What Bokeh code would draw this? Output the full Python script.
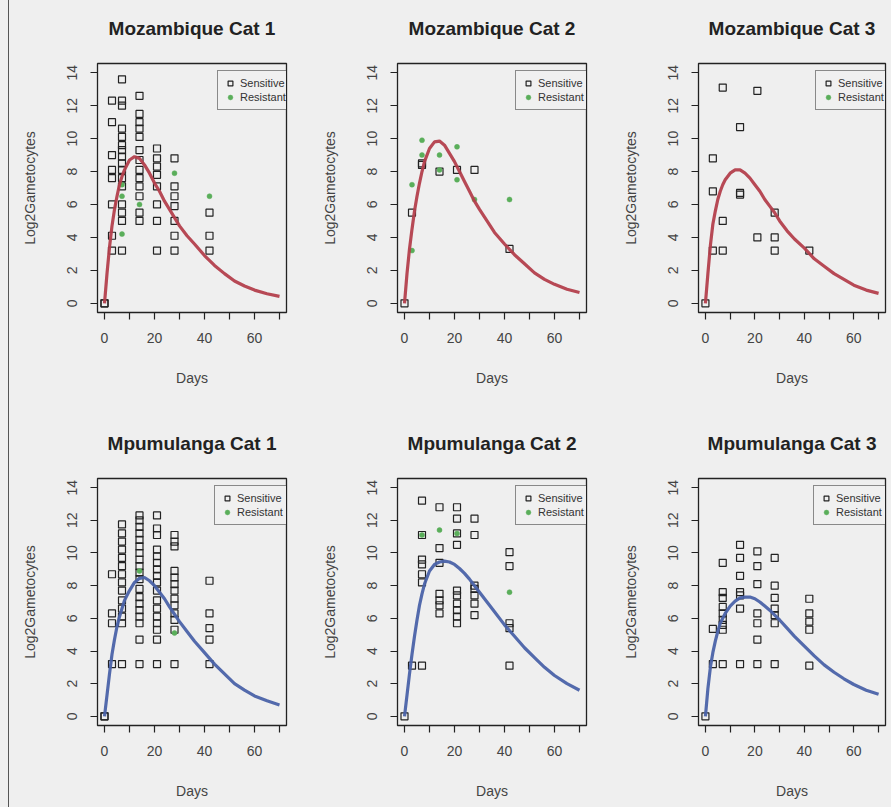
from bokeh.plotting import figure
from bokeh.layouts import gridplot
from bokeh.models import FixedTicker, Range1d, Legend, LegendItem
from bokeh.embed import file_html
from bokeh.resources import INLINE

FONT = "Liberation Sans"
BG = "#efefef"
RED = "#b33f4c"
BLUE = "#4a62a8"
GREEN = "#5aae5a"

x_ticks = [0, 10, 20, 30, 40, 50, 60, 70]
x_tick_labels = ["0", "", "20", "", "40", "", "60", ""]
y_ticks = [0, 2, 4, 6, 8, 10, 12, 14]
y_tick_labels = ["0", "2", "4", "6", "8", "10", "12", "14"]

titles = ["Mozambique Cat 1", "Mozambique Cat 2", "Mozambique Cat 3",
          "Mpumulanga Cat 1", "Mpumulanga Cat 2", "Mpumulanga Cat 3"]

# fitted model, sampled on these days
curve_days = [0, 1, 2, 3, 4, 5, 6, 7, 8, 10, 12, 14, 16, 18, 20, 22, 24, 26, 28, 30,
              33, 36, 40, 44, 48, 52, 56, 60, 65, 70]
moz1_curve = [0, 1.8, 3.4, 4.7, 5.7, 6.5, 7.2, 7.7, 8.1, 8.7, 8.9, 8.8, 8.4, 7.9, 7.3, 6.8,
              6.2, 5.7, 5.2, 4.7, 4.1, 3.6, 2.9, 2.3, 1.8, 1.35, 1.05, 0.8, 0.58, 0.42]
moz2_curve = [0, 1.8, 3.3, 4.5, 5.6, 6.5, 7.3, 8.0, 8.6, 9.4, 9.8, 9.85, 9.6, 9.1, 8.6, 8.0,
              7.4, 6.8, 6.2, 5.7, 5.0, 4.3, 3.6, 2.95, 2.4, 1.85, 1.45, 1.15, 0.85, 0.65]
moz3_curve = [0, 1.8, 3.5, 4.8, 5.6, 6.3, 6.8, 7.2, 7.5, 7.9, 8.1, 8.1, 7.9, 7.6, 7.2, 6.8,
              6.3, 5.9, 5.5, 5.0, 4.4, 3.9, 3.35, 2.7, 2.25, 1.8, 1.45, 1.1, 0.8, 0.6]
mpu1_curve = [0, 1.3, 2.6, 3.8, 4.7, 5.5, 6.1, 6.6, 7.1, 7.7, 8.2, 8.45, 8.5, 8.3, 8.0, 7.6,
              7.2, 6.7, 6.25, 5.8, 5.2, 4.6, 3.9, 3.2, 2.6, 2.0, 1.6, 1.25, 0.95, 0.7]
mpu2_curve = [0, 1.3, 2.6, 3.8, 4.9, 5.9, 6.8, 7.5, 8.1, 8.9, 9.3, 9.45, 9.5, 9.45, 9.3, 9.05,
              8.75, 8.4, 8.0, 7.6, 7.0, 6.4, 5.6, 4.9, 4.2, 3.6, 3.0, 2.5, 2.0, 1.6]
mpu3_curve = [0, 1.7, 3.0, 3.9, 4.6, 5.2, 5.7, 6.0, 6.3, 6.75, 7.05, 7.25, 7.3, 7.3, 7.2, 7.0,
              6.75, 6.5, 6.2, 5.9, 5.4, 4.9, 4.3, 3.7, 3.15, 2.7, 2.3, 1.95, 1.6, 1.35]

# Mozambique Cat 1
moz1_sens_days = [0, 0,
                  3, 3, 3, 3, 3, 3, 3, 3,
                  7, 7, 7, 7, 7, 7, 7, 7, 7, 7, 7, 7, 7, 7, 7, 7,
                  14, 14, 14, 14, 14, 14, 14, 14, 14, 14, 14, 14, 14,
                  21, 21, 21, 21, 21, 21, 21, 21,
                  28, 28, 28, 28, 28, 28, 28,
                  42, 42, 42]
moz1_sens_vals = [0, 0,
                  12.3, 11.0, 9.0, 8.1, 7.6, 6.0, 4.1, 3.2,
                  13.6, 12.3, 12.0, 10.6, 10.1, 9.6, 9.3, 8.9, 8.5, 8.1, 7.6, 7.1, 6.0, 5.5, 5.0, 3.2,
                  12.6, 11.5, 11.0, 10.6, 10.1, 9.3, 8.7, 8.1, 7.6, 7.1, 6.5, 5.5, 5.0,
                  9.4, 8.8, 8.3, 7.8, 7.1, 6.0, 5.0, 3.2,
                  8.8, 7.1, 6.5, 5.9, 5.0, 4.1, 3.2,
                  5.5, 4.1, 3.2]
moz1_res_days = [7, 7, 7, 14, 28, 42]
moz1_res_vals = [7.2, 6.5, 4.2, 6.0, 7.9, 6.5]

# Mozambique Cat 2
moz2_sens_days = [0, 3, 7, 7, 14, 21, 28, 42]
moz2_sens_vals = [0, 5.5, 8.4, 8.5, 8.0, 8.1, 8.1, 3.3]
moz2_res_days = [3, 3, 7, 7, 14, 14, 21, 21, 28, 42]
moz2_res_vals = [3.2, 7.2, 9.9, 9.0, 9.0, 8.1, 9.5, 7.5, 6.3, 6.3]

# Mozambique Cat 3 (no resistant isolates)
moz3_sens_days = [0, 3, 3, 3, 7, 7, 7, 14, 14, 14, 21, 21, 28, 28, 28, 42]
moz3_sens_vals = [0, 3.2, 6.8, 8.8, 13.1, 5.0, 3.2, 10.7, 6.7, 6.6, 12.9, 4.0, 5.5, 4.0, 3.2, 3.2]
moz3_res_days = []
moz3_res_vals = []

# Mpumulanga Cat 1
mpu1_sens_days = ([0, 0] + [3] * 4 + [7] * 14 + [14] * 19 + [21] * 17 + [28] * 13 + [42] * 5)
mpu1_sens_vals = [0, 0,
                  8.7, 6.3, 5.7, 3.2,
                  11.75, 11.2, 10.7, 10.2, 9.7, 9.2, 8.7, 8.2, 7.7, 7.1, 6.6, 6.1, 5.7, 3.2,
                  12.3, 12.0, 11.6, 11.2, 10.8, 10.4, 10.0, 9.6, 9.2, 8.8, 8.4, 7.8, 7.3, 6.9,
                  6.5, 6.1, 5.7, 4.7, 3.2,
                  12.3, 11.5, 11.1, 10.2, 9.8, 9.4, 9.0, 8.6, 8.2, 7.7, 7.1, 6.6, 6.1, 5.7,
                  5.3, 4.7, 3.2,
                  11.1, 10.7, 10.4, 8.9, 8.5, 8.1, 7.7, 7.2, 6.8, 6.3, 5.9, 5.3, 3.2,
                  8.3, 6.3, 5.4, 4.7, 3.2]
mpu1_res_days = [14, 28]
mpu1_res_vals = [8.9, 5.1]

# Mpumulanga Cat 2
mpu2_sens_days = ([0, 3] + [7] * 7 + [14] * 7 + [21] * 10 + [28] * 7 + [42] * 5)
mpu2_sens_vals = [0, 3.1,
                  13.2, 11.1, 9.6, 9.3, 8.7, 8.2, 3.1,
                  12.8, 10.3, 9.4, 7.5, 7.1, 6.8, 6.3,
                  12.8, 12.1, 11.2, 10.5, 7.7, 7.4, 6.9, 6.5, 6.1, 5.7,
                  12.1, 11.1, 8.0, 7.8, 7.4, 6.9, 6.2,
                  10.05, 9.2, 5.7, 5.4, 3.1]
mpu2_res_days = [7, 14, 21, 42]
mpu2_res_vals = [11.1, 11.4, 11.2, 7.6]

# Mpumulanga Cat 3 (no resistant isolates)
mpu3_sens_days = ([0] + [3] * 2 + [7] * 9 + [14] * 7 + [21] * 7 + [28] * 7 + [42] * 5)
mpu3_sens_vals = [0,
                  5.35, 3.2,
                  9.4, 7.6, 7.25, 6.7, 6.3, 5.9, 5.6, 5.3, 3.2,
                  10.5, 9.7, 8.6, 7.6, 7.4, 6.6, 3.2,
                  10.1, 9.2, 8.1, 6.3, 5.7, 4.7, 3.2,
                  9.7, 8.0, 7.25, 6.6, 6.2, 5.7, 3.2,
                  7.2, 6.3, 5.8, 5.3, 3.1]
mpu3_res_days = []
mpu3_res_vals = []

series = [
    (moz1_sens_days, moz1_sens_vals, moz1_res_days, moz1_res_vals, moz1_curve, RED),
    (moz2_sens_days, moz2_sens_vals, moz2_res_days, moz2_res_vals, moz2_curve, RED),
    (moz3_sens_days, moz3_sens_vals, moz3_res_days, moz3_res_vals, moz3_curve, RED),
    (mpu1_sens_days, mpu1_sens_vals, mpu1_res_days, mpu1_res_vals, mpu1_curve, BLUE),
    (mpu2_sens_days, mpu2_sens_vals, mpu2_res_days, mpu2_res_vals, mpu2_curve, BLUE),
    (mpu3_sens_days, mpu3_sens_vals, mpu3_res_days, mpu3_res_vals, mpu3_curve, BLUE),
]

# the page is pulled up by TOP_SHIFT px, so the first row carries extra head room
TOP_SHIFT = 11

# canvas geometry per panel: width, height, left, right, top, bottom borders,
# and the heading standoff
geometry = [
    (288, 416, 85, 11, 74, 93, 50), (297, 416, 99, 8, 74, 93, 50),
    (297, 416, 104, 4, 74, 93, 50),
    (288, 402, 88, 11, 73, 82, 50), (297, 402, 100, 7, 73, 82, 50),
    (297, 402, 104, 6, 73, 82, 50),
]


def make_panel(title, data, geom):
    sd, sv, rd, rv, curve, ccol = data
    w, h, bl, br, bt, bb, standoff = geom
    fw = w - bl - br
    fh = h - bt - bb
    p = figure(width=w, height=h, output_backend="svg", toolbar_location=None,
               x_range=Range1d(-2.8, 72.8), y_range=Range1d(-0.56, 14.56),
               min_border_left=bl, min_border_right=br, min_border_top=bt,
               min_border_bottom=bb, background_fill_color=BG, border_fill_color=BG,
               title=title)
    p.title.text_font = FONT
    p.title.text_font_size = "19px"
    p.title.text_font_style = "bold"
    p.title.text_color = "#222222"
    p.title.align = "center"
    p.title.standoff = standoff

    p.xgrid.visible = False
    p.ygrid.visible = False
    p.outline_line_color = "#222222"
    p.outline_line_width = 1.3

    for ax in (p.xaxis[0], p.yaxis[0]):
        ax.axis_line_color = None
        ax.major_tick_line_color = "#222222"
        ax.major_tick_line_width = 1.2
        ax.major_tick_in = 0
        ax.major_tick_out = 7
        ax.minor_tick_line_color = None
        ax.major_label_text_font = FONT
        ax.major_label_text_font_size = "14px"
        ax.major_label_text_color = "#444444"
        ax.axis_label_text_font = FONT
        ax.axis_label_text_font_size = "14px"
        ax.axis_label_text_font_style = "normal"
        ax.axis_label_text_color = "#444444"

    p.xaxis.ticker = FixedTicker(ticks=x_ticks)
    p.xaxis.major_label_overrides = {t: s for t, s in zip(x_ticks, x_tick_labels)}
    p.xaxis.axis_label = "Days"
    p.xaxis.major_label_standoff = 13
    p.xaxis.axis_label_standoff = 24

    p.yaxis.ticker = FixedTicker(ticks=y_ticks)
    p.yaxis.major_label_overrides = {t: s for t, s in zip(y_ticks, y_tick_labels)}
    p.yaxis.major_label_orientation = "vertical"
    p.yaxis.axis_label = "Log2Gametocytes"
    p.yaxis.major_label_standoff = 13
    p.yaxis.axis_label_standoff = 27

    sens = p.scatter(sd, sv, marker="square", size=7, fill_color=None,
                     line_color="#222222", line_width=1.2)
    # a panel without resistant isolates still keeps the legend key
    res_x = rd if rd else [float("nan")]
    res_y = rv if rv else [float("nan")]
    res = p.scatter(x=res_x, y=res_y, marker="circle", size=5, fill_color=GREEN,
                    line_color=GREEN, line_width=0.5)
    p.line(curve_days, curve, line_color=ccol, line_width=3.2, line_alpha=0.95)

    legend = Legend(items=[LegendItem(label="Sensitive", renderers=[sens]),
                           LegendItem(label="Resistant", renderers=[res])])
    legend.label_text_font = FONT
    legend.label_text_font_size = "11px"
    legend.label_text_color = "#333333"
    legend.label_height = 12
    legend.glyph_height = 12
    legend.glyph_width = 12
    legend.label_standoff = 4
    legend.spacing = 2
    legend.padding = 6
    legend.margin = 0
    legend.border_line_color = "#222222"
    legend.border_line_width = 1.3
    legend.background_fill_color = BG
    legend.location = (fw - 72, fh - 9 - 38)
    p.add_layout(legend)
    return p


panels = [make_panel(t, d, g) for t, d, g in zip(titles, series, geometry)]

grid = gridplot([panels[:3], panels[3:]], toolbar_location=None)
grid.spacing = 0
grid.styles = {"margin-left": "8px", "margin-top": "-%dpx" % TOP_SHIFT,
               "border-left": "1px solid #555555",
               "background-color": BG, "box-shadow": "-9px 0 0 " + BG}

open("out.html", "w").write(file_html(grid, INLINE))
